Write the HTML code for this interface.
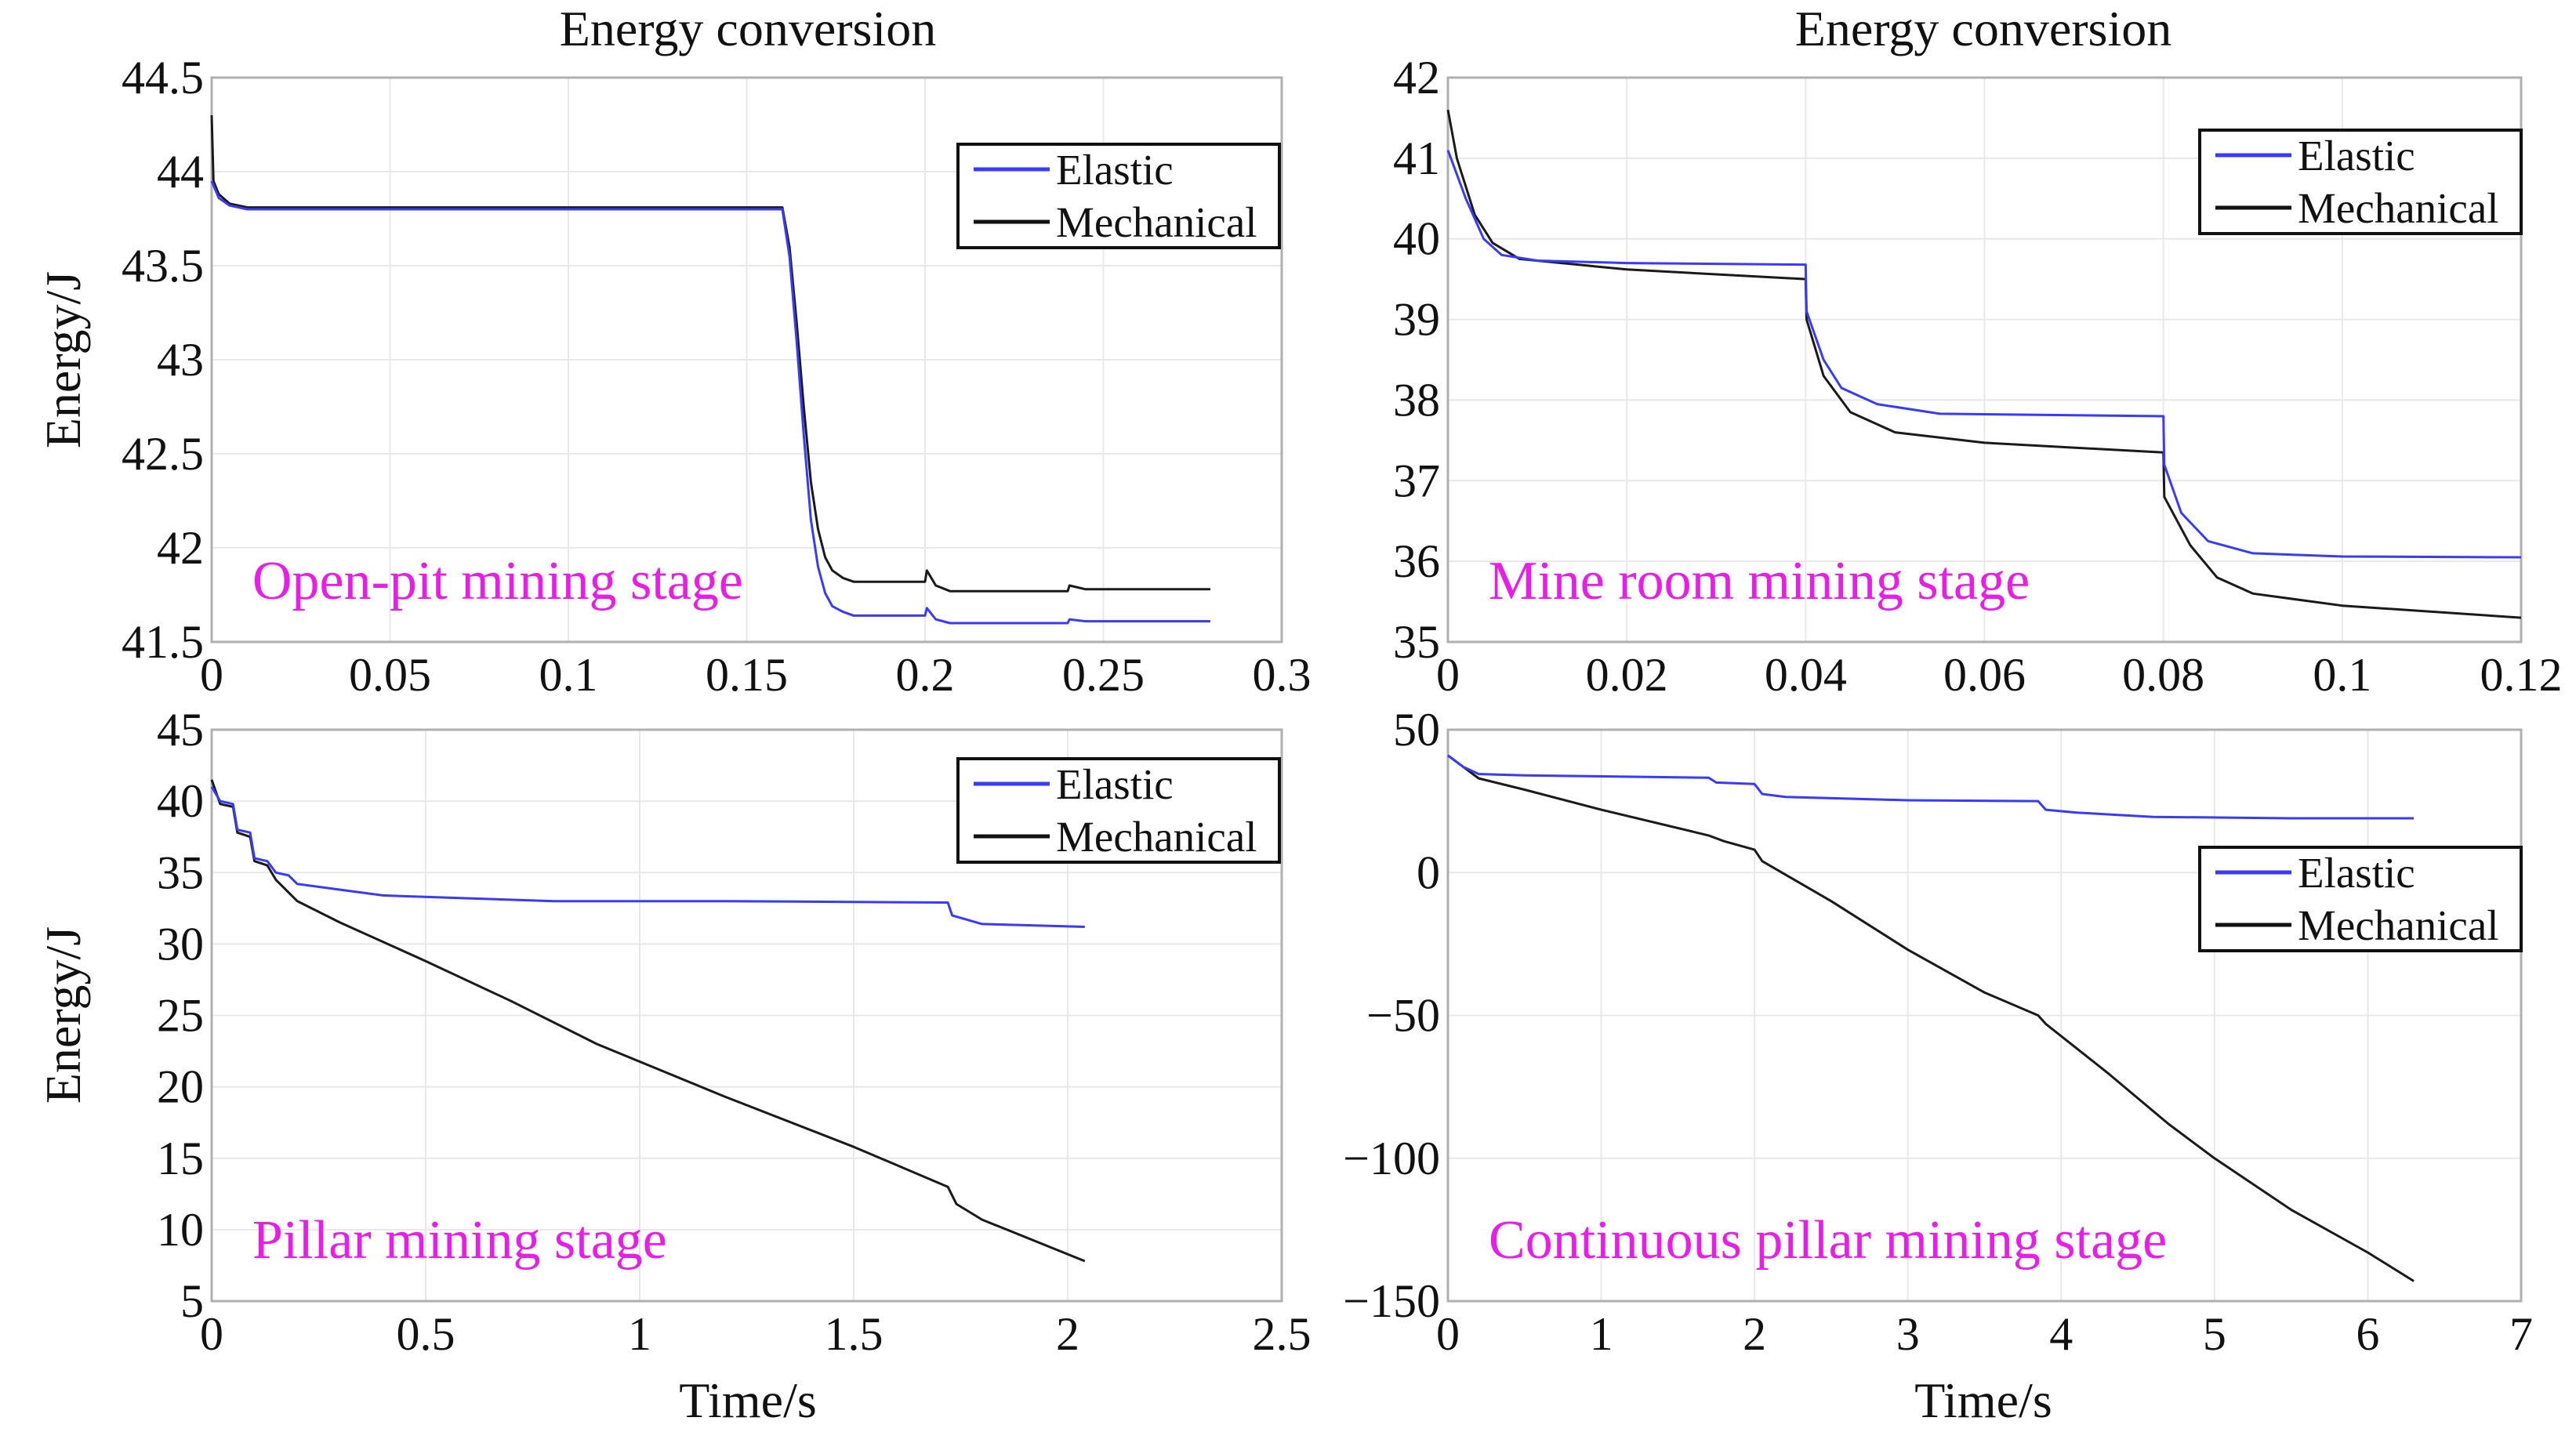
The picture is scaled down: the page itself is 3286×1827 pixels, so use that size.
<!DOCTYPE html>
<html><head><meta charset="utf-8"><style>
html,body{margin:0;padding:0;background:#fff;}
svg{display:block;font-family:"Liberation Serif",serif;}
</style></head><body>
<svg id="fig" width="3286" height="1827" viewBox="0 0 3286 1827" xmlns="http://www.w3.org/2000/svg"></svg>
<script>
// ---- Panel 1: Open-pit ----
const p1ElasticX = [0,0.002,0.005,0.01,0.03,0.16,0.162,0.164,0.166,0.168,0.17,0.172,0.174,0.177,0.18,0.2,0.2005,0.203,0.207,0.24,0.2405,0.245,0.28];
const p1ElasticY = [43.95,43.86,43.82,43.8,43.8,43.8,43.55,43.1,42.6,42.15,41.9,41.76,41.69,41.66,41.64,41.64,41.68,41.62,41.6,41.6,41.62,41.61,41.61];
const p1MechX = [0,0.0005,0.002,0.005,0.01,0.03,0.16,0.162,0.164,0.166,0.168,0.17,0.172,0.174,0.177,0.18,0.2,0.2005,0.203,0.207,0.24,0.2405,0.245,0.28];
const p1MechY = [44.3,43.95,43.88,43.83,43.81,43.81,43.81,43.6,43.2,42.75,42.35,42.1,41.95,41.88,41.84,41.82,41.82,41.88,41.8,41.77,41.77,41.8,41.78,41.78];
const p1XTicks = [0,0.05,0.1,0.15,0.2,0.25,0.3];
const p1YTicks = [41.5,42,42.5,43,43.5,44,44.5];
// ---- Panel 2: Mine room ----
const p2ElasticX = [0,0.002,0.004,0.006,0.01,0.02,0.04,0.0401,0.042,0.044,0.048,0.055,0.08,0.0801,0.082,0.085,0.09,0.1,0.12];
const p2ElasticY = [41.1,40.5,40.0,39.8,39.73,39.7,39.68,39.1,38.5,38.15,37.95,37.83,37.8,37.2,36.6,36.25,36.1,36.06,36.05];
const p2MechX = [0,0.001,0.003,0.005,0.008,0.02,0.04,0.0401,0.042,0.045,0.05,0.06,0.08,0.0801,0.083,0.086,0.09,0.1,0.12];
const p2MechY = [41.6,41.0,40.3,39.95,39.75,39.62,39.5,39.0,38.3,37.85,37.6,37.47,37.35,36.8,36.2,35.8,35.6,35.45,35.3];
const p2XTicks = [0,0.02,0.04,0.06,0.08,0.1,0.12];
const p2YTicks = [35,36,37,38,39,40,41,42];
// ---- Panel 3: Pillar ----
const p3ElasticX = [0,0.02,0.05,0.06,0.09,0.1,0.13,0.15,0.18,0.2,0.3,0.4,0.6,0.8,1.2,1.72,1.73,1.8,2.04];
const p3ElasticY = [41,40,39.8,38,37.8,36,35.8,35,34.8,34.2,33.8,33.4,33.2,33,33,32.9,32,31.4,31.2];
const p3MechX = [0,0.02,0.05,0.06,0.09,0.1,0.13,0.15,0.2,0.3,0.5,0.7,0.9,1.2,1.5,1.72,1.74,1.8,2.04];
const p3MechY = [41.5,39.8,39.6,37.8,37.5,35.8,35.5,34.5,33,31.5,28.8,26,23,19.3,15.8,13,11.8,10.7,7.8];
const p3XTicks = [0,0.5,1,1.5,2,2.5];
const p3YTicks = [5,10,15,20,25,30,35,40,45];
// ---- Panel 4: Continuous pillar ----
const p4ElasticX = [0,0.1,0.2,0.5,1.7,1.75,2.0,2.05,2.2,3,3.85,3.9,4.1,4.6,5.5,6.3];
const p4ElasticY = [41,37,34.5,34,33.2,31.5,31,27.5,26.5,25.3,25,22,21,19.5,19,19];
const p4MechX = [0,0.1,0.2,0.5,1,1.7,1.8,2.0,2.05,2.5,3,3.5,3.85,3.9,4.3,4.7,5,5.5,6,6.3];
const p4MechY = [41,37,33,29,22,13,11,8,4,-10,-27,-42,-50,-53,-70,-88,-100,-118,-133,-143];
const p4XTicks = [0,1,2,3,4,5,6,7];
const p4YTicks = [-150,-100,-50,0,50];

const NS="http://www.w3.org/2000/svg";
const svg=document.getElementById('fig');
function mk(tag,attrs,parent){const e=document.createElementNS(NS,tag);for(const k in attrs)e.setAttribute(k,attrs[k]);(parent||svg).appendChild(e);return e;}
function fmt(v){return v<0?'\u2212'+Math.abs(v):String(v);}

function panel(key,box,xd,yd,xt,yt,eX,eY,mX,mY,legend,note){
  const g=mk('g',{});
  
  
  const sx=v=>box.l+(v-xd[0])/(xd[1]-xd[0])*(box.r-box.l);
  const sy=v=>box.b-(v-yd[0])/(yd[1]-yd[0])*(box.b-box.t);
  xt.forEach(v=>{const l=mk('line',{x1:sx(v),x2:sx(v),y1:box.t,y2:box.b,stroke:'#e8e8e8','stroke-width':2},g);
    
    });
  yt.forEach(v=>{const l=mk('line',{x1:box.l,x2:box.r,y1:sy(v),y2:sy(v),stroke:'#e8e8e8','stroke-width':2},g);
    
    });
  const fr=mk('rect',{x:box.l,y:box.t,width:box.r-box.l,height:box.b-box.t,fill:'none',stroke:'#b0b0b0','stroke-width':3},g);
  
  
  xt.forEach(v=>{const t=mk('text',{x:sx(v),y:box.b+62,'font-size':60,'text-anchor':'middle',fill:'#111'},g);t.textContent=fmt(v);
    
    });
  yt.forEach(v=>{const t=mk('text',{x:box.l-10,y:sy(v)+20,'font-size':60,'text-anchor':'end',fill:'#111'},g);t.textContent=fmt(v);
    
    });
  const path=(X,Y)=>X.map((x,i)=>(i?'L':'M')+sx(x).toFixed(1)+','+sy(Y[i]).toFixed(1)).join(' ');
  const pm=mk('path',{d:path(mX,mY),fill:'none',stroke:'#1a1a1a','stroke-width':3,'stroke-linejoin':'round'},g);
  
  
  const pe=mk('path',{d:path(eX,eY),fill:'none',stroke:'#3a3aff','stroke-width':3,'stroke-linejoin':'round'},g);
  
  
  const lg=mk('g',{},g);
  
  
  mk('rect',{x:legend.x,y:legend.y,width:410,height:132,fill:'#fff',stroke:'#111','stroke-width':4},lg);
  const e1=mk('line',{x1:legend.x+20,x2:legend.x+117,y1:legend.y+32,y2:legend.y+32,stroke:'#3a3aff','stroke-width':5},lg);
  
  
  const t1=mk('text',{x:legend.x+125,y:legend.y+51,'font-size':55,fill:'#111'},lg);t1.textContent='Elastic';
  
  
  const e2=mk('line',{x1:legend.x+20,x2:legend.x+117,y1:legend.y+99,y2:legend.y+99,stroke:'#111','stroke-width':5},lg);
  
  
  const t2=mk('text',{x:legend.x+125,y:legend.y+118,'font-size':55,fill:'#111'},lg);t2.textContent='Mechanical';
  
  
  const n=mk('text',{x:box.l+52,y:box.b-55,'font-size':70,fill:'#e61ee6'},g);n.textContent=note;
  
  
}

const T={t:99,b:819}, B={t:931,b:1660};
panel('open-pit',{l:270,r:1635,...T},[0,0.3],[41.5,44.5],p1XTicks,p1YTicks,p1ElasticX,p1ElasticY,p1MechX,p1MechY,{x:1222,y:184},'Open-pit mining stage');
panel('mine-room',{l:1847,r:3216,...T},[0,0.12],[35,42],p2XTicks,p2YTicks,p2ElasticX,p2ElasticY,p2MechX,p2MechY,{x:2806,y:166},'Mine room mining stage');
panel('pillar',{l:270,r:1635,...B},[0,2.5],[5,45],p3XTicks,p3YTicks,p3ElasticX,p3ElasticY,p3MechX,p3MechY,{x:1222,y:968},'Pillar mining stage');
panel('continuous-pillar',{l:1847,r:3216,...B},[0,7],[-150,50],p4XTicks,p4YTicks,p4ElasticX,p4ElasticY,p4MechX,p4MechY,{x:2806,y:1081},'Continuous pillar mining stage');

function label(txt,x,y,name,rot){const t=mk('text',{x:x,y:y,'font-size':64,'text-anchor':'middle',fill:'#111'});
  if(rot)t.setAttribute('transform','rotate(-90 '+x+' '+y+')');
  t.textContent=txt;
  
  }
label('Energy conversion',954,58,'left-title');
label('Energy conversion',2530,58,'right-title');
label('Energy/J',102,459,'top-y-axis-title',true);
label('Energy/J',102,1295,'bottom-y-axis-title',true);
label('Time/s',954,1808,'left-x-axis-title');
label('Time/s',2530,1808,'right-x-axis-title');
</script>
</body></html>
